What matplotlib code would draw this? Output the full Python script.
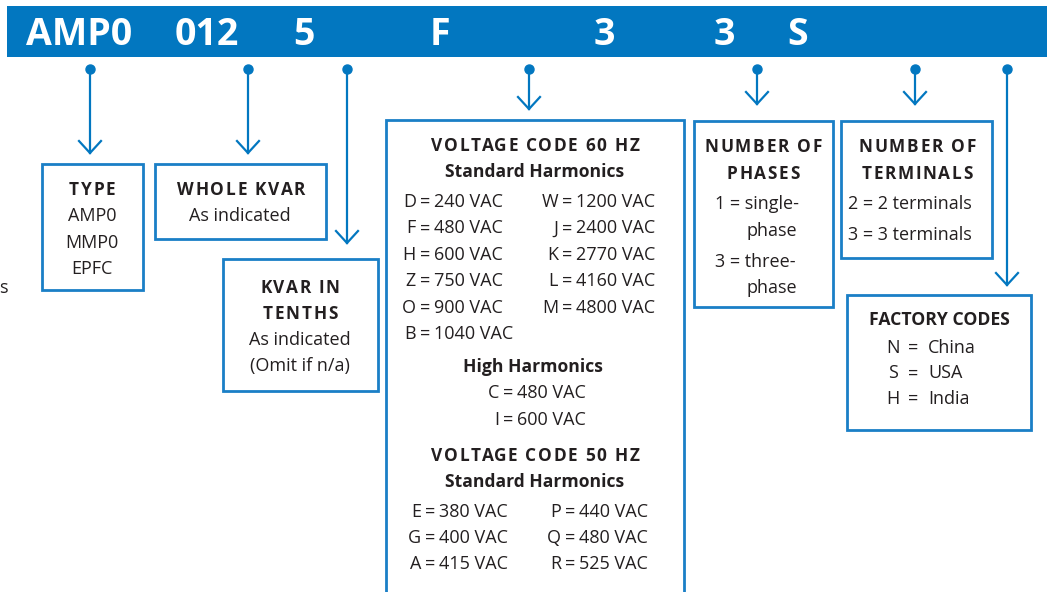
import matplotlib.pyplot as plt
from matplotlib.patches import Rectangle
from matplotlib.font_manager import FontProperties

plt.rcParams['font.family'] = ['Open Sans', 'DejaVu Sans']

BLUE = '#0277c0'
EDGE = '#1a7fc6'
INK = '#231f20'

# part number as shown in the banner
code_parts = ['AMP0', '012', '5', 'F', '3', '3', 'S']

# box contents
type_codes = ['AMP0', 'MMP0', 'EPFC']
v60_left_letters = ['D', 'F', 'H', 'Z', 'O', 'B']
v60_left_volts = [240, 480, 600, 750, 900, 1040]
v60_right_letters = ['W', 'J', 'K', 'L', 'M']
v60_right_volts = [1200, 2400, 2770, 4160, 4800]
high_letters = ['C', 'I']
high_volts = [480, 600]
v50_left_letters = ['E', 'G', 'A']
v50_left_volts = [380, 400, 415]
v50_right_letters = ['P', 'Q', 'R']
v50_right_volts = [440, 480, 525]
phase_lines = [('1 = single-', 'phase'), ('3 = three-', 'phase')]
terminal_lines = ['2 = 2 terminals', '3 = 3 terminals']
factory_letters = ['N', 'S', 'H']
factory_names = ['China', 'USA', 'India']

# layout (pixels)
code_x = [79, 207, 304, 440, 604, 724, 798]
lead_x = [90, 248, 347, 529, 757, 915, 1007]
lead_tip = [153, 153, 243, 109, 104, 104, 285]

fig = plt.figure(figsize=(10.62, 5.92), dpi=100)
ax = fig.add_axes([0, 0, 1, 1])
ax.set_xlim(0, 1062)
ax.set_ylim(592, 0)
ax.axis('off')
renderer = fig.canvas.get_renderer()

BODY = 13
SUB = 12.6
CAPS = 12.4
TRACK = 1.7


def txt(x, y, s, ha='center', bold=False, size=None):
    ax.text(x, y, s, ha=ha, va='baseline', color=INK,
            fontsize=size or (SUB if bold else BODY),
            fontweight='bold' if bold else 'normal')


def caps(x, y, s):
    # bold caps title with letter spacing, centred on x
    prop = FontProperties(family=['Open Sans', 'DejaVu Sans'],
                          weight='bold', size=CAPS)

    def width(t):
        if not t:
            return 0.0
        return renderer.get_text_width_height_descent(t, prop, ismath=False)[0]

    total = width(s) + TRACK * (len(s) - 1)
    x0 = x - total / 2
    for i, ch in enumerate(s):
        ax.text(x0 + width(s[:i]) + TRACK * i, y, ch, ha='left',
                va='baseline', color=INK, fontproperties=prop)


def box(x0, y0, x1, y1, open_bottom=False):
    if open_bottom:
        ax.plot([x0, x0, x1, x1], [600, y0, y0, 600], color=EDGE, lw=2,
                solid_joinstyle='miter')
    else:
        ax.add_patch(Rectangle((x0, y0), x1 - x0, y1 - y0, fill=False,
                               edgecolor=EDGE, lw=2, joinstyle='miter'))


def code_row(x_eq, y, letter, volts):
    txt(x_eq - 9, y, letter, ha='right')
    txt(x_eq, y, '=')
    txt(x_eq + 9, y, f'{volts} VAC', ha='left')


# banner
ax.add_patch(Rectangle((7, 6), 1040, 51, color=BLUE, lw=0))
for part, x in zip(code_parts, code_x):
    ax.text(x, 45, part, ha='center', va='baseline', color='white',
            fontsize=27, fontweight='bold')

# leaders with dots and open arrowheads
for x, tip in zip(lead_x, lead_tip):
    ax.plot([x, x], [69, tip], color=BLUE, lw=1.6)
    ax.plot([x], [69], 'o', color=BLUE, ms=6.5)
    ax.plot([x - 11, x, x + 11], [tip - 12, tip, tip - 12], color=BLUE,
            lw=1.6, solid_joinstyle='miter')

# TYPE
box(42, 164, 143, 290)
caps(92, 195, 'TYPE')
for i, c in enumerate(type_codes):
    txt(92, 221 + i * 26.5, c)

# WHOLE KVAR
box(155, 164, 326, 239)
caps(241, 195, 'WHOLE KVAR')
txt(240, 221, 'As indicated')

# KVAR IN TENTHS
box(223, 259, 378, 391)
caps(300, 293, 'KVAR IN')
caps(300, 319, 'TENTHS')
txt(300, 345, 'As indicated')
txt(300, 371, '(Omit if n/a)')

# voltage codes
box(386, 120, 684, 600, open_bottom=True)
caps(535, 151, 'VOLTAGE CODE 60 HZ')
txt(535, 177, 'Standard Harmonics', bold=True)
for i, (l, v) in enumerate(zip(v60_left_letters, v60_left_volts)):
    code_row(425, 207 + i * 26.4, l, v)
for i, (l, v) in enumerate(zip(v60_right_letters, v60_right_volts)):
    code_row(567, 207 + i * 26.4, l, v)
txt(533, 372, 'High Harmonics', bold=True)
for i, (l, v) in enumerate(zip(high_letters, high_volts)):
    code_row(508, 398 + i * 27, l, v)
caps(535, 461, 'VOLTAGE CODE 50 HZ')
txt(535, 487, 'Standard Harmonics', bold=True)
for i, (l, v) in enumerate(zip(v50_left_letters, v50_left_volts)):
    code_row(430, 517 + i * 26, l, v)
for i, (l, v) in enumerate(zip(v50_right_letters, v50_right_volts)):
    code_row(570, 517 + i * 26, l, v)

# number of phases
box(694, 121, 833, 307)
caps(763, 152, 'NUMBER OF')
caps(763, 179, 'PHASES')
for i, (a, b) in enumerate(phase_lines):
    txt(715, 209 + i * 58, a, ha='left')
    txt(746, 236 + i * 57, b, ha='left')

# number of terminals
box(841, 121, 992, 258)
caps(917, 152, 'NUMBER OF')
caps(917, 179, 'TERMINALS')
for i, s in enumerate(terminal_lines):
    txt(848, 209 + i * 31, s, ha='left')

# factory codes
box(847, 295, 1031, 430)
txt(939, 325, 'FACTORY CODES', bold=True, size=CAPS + 0.3)
for i, (l, n) in enumerate(zip(factory_letters, factory_names)):
    y = 353 + i * 25.5
    txt(893, y, l)
    txt(913, y, '=')
    txt(928, y, n, ha='left')

# clipped text at the left edge
txt(-1, 293, 's', ha='left')

fig.savefig('out.png', dpi=100)
